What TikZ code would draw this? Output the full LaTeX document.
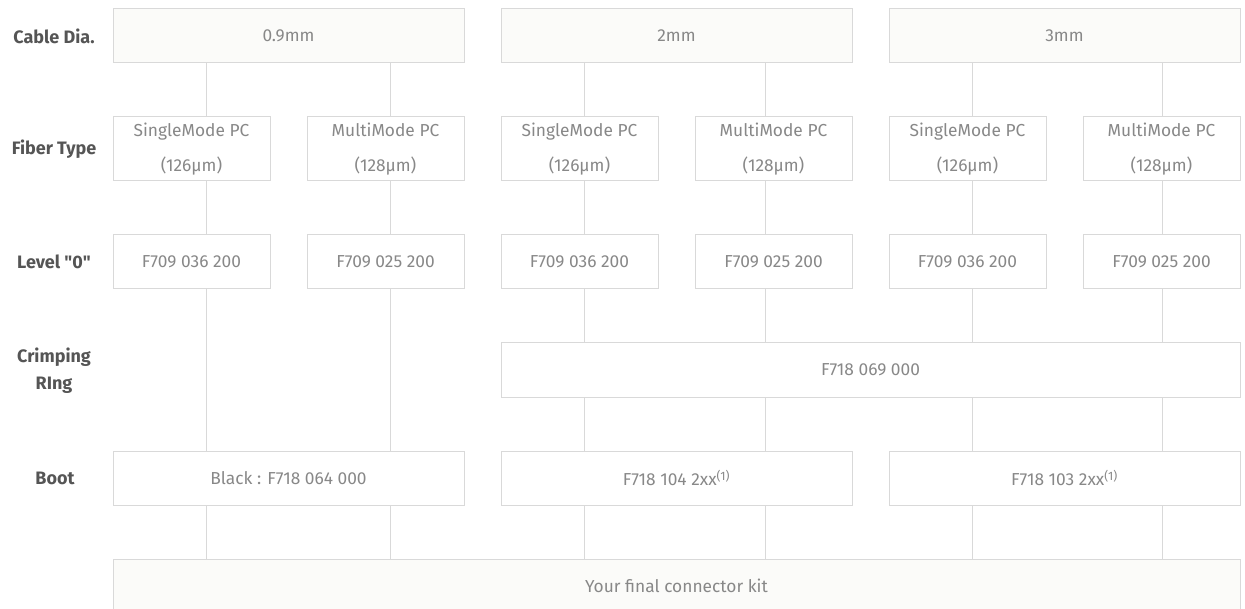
\documentclass[tikz,border=0pt]{standalone}
\usepackage{fontspec}
\setmainfont{Fira Sans}
\usepackage{xcolor}
\usepackage{tikz}
\usetikzlibrary{positioning}
\definecolor{KitLine}{HTML}{D9D9D9}
\definecolor{KitText}{HTML}{888888}
\definecolor{KitInk}{HTML}{555555}
\definecolor{KitFill}{HTML}{FBFBF9}
\tikzset{
  link/.style={draw=KitLine,line width=0.75pt},
  cell/.style={draw=KitLine,fill=white,line width=0.75pt,align=center,
    inner sep=0pt,outer sep=0pt,minimum height=40.5pt,text=KitText,
    font=\fontsize{13}{15}\selectfont},
  groupcell/.style={cell,fill=KitFill,minimum width=263.25pt},
  subcell/.style={cell,minimum width=117.75pt},
  fibercell/.style={subcell,minimum height=48pt,font=\fontsize{13}{26.5}\selectfont},
  rowlabel/.style={align=center,text=KitInk,font=\fontsize{13.5}{20}\selectfont\bfseries}
}

\begin{document}
\begin{tikzpicture}[x=0.75pt,y=-0.75pt]
  \useasboundingbox (0,0) rectangle (1245,609);
  \node[rowlabel] (lcab) at (54,36) {Cable Dia.};
  \node[rowlabel] (lfib) at (54,149) {Fiber Type};
  \node[rowlabel] (llev) at (54,262) {Level \textquotedbl0\textquotedbl};
  \node[rowlabel] (lcrimp) at (54,371) {Crimping\\RIng};
  \node[rowlabel] (lboot) at (55,478) {Boot};

  \node[groupcell] (cab1) at (288.5,36) {0.9mm};
  \node[groupcell] (cab2) at (676.5,36) {2mm};
  \node[groupcell] (cab3) at (1064.5,36) {3mm};

  \node[fibercell] (sm1) at (191.5,149) {SingleMode PC\\(126µm)};
  \node[fibercell] (mm1) at (385.5,149) {MultiMode PC\\(128µm)};
  \node[fibercell] (sm2) at (579.5,149) {SingleMode PC\\(126µm)};
  \node[fibercell] (mm2) at (773.5,149) {MultiMode PC\\(128µm)};
  \node[fibercell] (sm3) at (967.5,149) {SingleMode PC\\(126µm)};
  \node[fibercell] (mm3) at (1161.5,149) {MultiMode PC\\(128µm)};

  \node[subcell] (lv1) at (191.5,262) {F709 036 200};
  \node[subcell] (lv2) at (385.5,262) {F709 025 200};
  \node[subcell] (lv3) at (579.5,262) {F709 036 200};
  \node[subcell] (lv4) at (773.5,262) {F709 025 200};
  \node[subcell] (lv5) at (967.5,262) {F709 036 200};
  \node[subcell] (lv6) at (1161.5,262) {F709 025 200};

  \node[cell,minimum width=554.25pt] (crimp) at (870.5,370) {F718 069 000};

  \node[groupcell,fill=white] (boot1) at (288.5,478) {Black : F718 064 000};
  \node[groupcell,fill=white] (boot2) at (676.5,478) {F718 104 2xx\textsuperscript{(1)}};
  \node[groupcell,fill=white] (boot3) at (1064.5,478) {F718 103 2xx\textsuperscript{(1)}};

  \node[groupcell,minimum width=845.25pt] (kit) at (676.5,586) {Your final connector kit};

  \coordinate (l1) at (206,0);
  \coordinate (l2) at (390,0);
  \coordinate (l3) at (584,0);
  \coordinate (l4) at (765,0);
  \coordinate (l5) at (972,0);
  \coordinate (l6) at (1162,0);

  \foreach \c/\f/\v/\l in {cab1/sm1/lv1/l1,cab1/mm1/lv2/l2,cab2/sm2/lv3/l3,
      cab2/mm2/lv4/l4,cab3/sm3/lv5/l5,cab3/mm3/lv6/l6}{
    \draw[link] (\c.south -| \l) -- (\f.north -| \l);
    \draw[link] (\f.south -| \l) -- (\v.north -| \l);
  }
  \foreach \v/\l in {lv1/l1,lv2/l2}
    \draw[link] (\v.south -| \l) -- (boot1.north -| \l);
  \foreach \v/\b/\l in {lv3/boot2/l3,lv4/boot2/l4,lv5/boot3/l5,lv6/boot3/l6}{
    \draw[link] (\v.south -| \l) -- (crimp.north -| \l);
    \draw[link] (crimp.south -| \l) -- (\b.north -| \l);
  }
  \foreach \b/\l in {boot1/l1,boot1/l2,boot2/l3,boot2/l4,boot3/l5,boot3/l6}
    \draw[link] (\b.south -| \l) -- (kit.north -| \l);
\end{tikzpicture}
\end{document}
